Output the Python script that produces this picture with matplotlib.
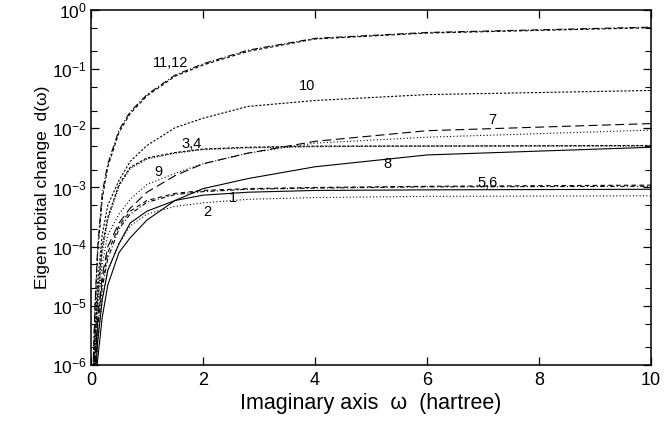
import numpy as np
import matplotlib
matplotlib.use('Agg')
import matplotlib.pyplot as plt
from matplotlib.ticker import FixedLocator, NullLocator, NullFormatter

plt.rcParams['font.family'] = ['Liberation Sans', 'DejaVu Sans']
plt.rcParams['mathtext.fontset'] = 'custom'
plt.rcParams['mathtext.rm'] = 'Liberation Sans'
plt.rcParams['mathtext.it'] = 'Liberation Sans:italic'

# imaginary frequency grid (hartree)
omega = [0.03, 0.07, 0.12, 0.2, 0.3, 0.5, 0.7, 1.0, 1.5, 2.0, 2.8, 4.0, 6.0, 10.0]

# log10 of d(omega) for each orbital
log_d11 = [-6.3, -5.0, -4.0, -3.1, -2.6, -2.03, -1.72, -1.43, -1.10, -0.91, -0.68, -0.48, -0.38, -0.29]
log_d12 = [-6.4, -5.1, -4.1, -3.2, -2.65, -2.07, -1.75, -1.45, -1.12, -0.93, -0.70, -0.49, -0.39, -0.30]
log_d10 = [-6.4, -5.4, -4.6, -3.8, -3.3, -2.88, -2.56, -2.29, -1.99, -1.83, -1.63, -1.53, -1.43, -1.36]
log_d3 = [-6.5, -5.6, -4.8, -4.0, -3.5, -2.95, -2.66, -2.50, -2.41, -2.35, -2.32, -2.30, -2.30, -2.29]
log_d4 = [-6.5, -5.7, -4.9, -4.1, -3.55, -2.98, -2.68, -2.52, -2.42, -2.36, -2.33, -2.31, -2.30, -2.30]
log_d9 = [-6.6, -5.8, -5.0, -4.3, -3.8, -3.45, -3.20, -2.95, -2.76, -2.60, -2.42, -2.25, -2.15, -2.03]
log_d7 = [-6.7, -6.0, -5.2, -4.5, -4.0, -3.60, -3.35, -3.08, -2.80, -2.60, -2.42, -2.22, -2.04, -1.92]
log_d5 = [-6.7, -6.0, -5.3, -4.6, -4.1, -3.65, -3.40, -3.22, -3.10, -3.05, -3.02, -3.00, -2.98, -2.96]
log_d6 = [-6.8, -6.1, -5.4, -4.7, -4.2, -3.70, -3.45, -3.25, -3.12, -3.07, -3.03, -3.01, -2.99, -2.98]
log_d1 = [-6.9, -6.3, -5.6, -4.9, -4.4, -3.95, -3.60, -3.40, -3.22, -3.13, -3.08, -3.05, -3.04, -3.03]
log_d2 = [-6.9, -6.3, -5.6, -4.9, -4.4, -3.95, -3.65, -3.45, -3.32, -3.26, -3.20, -3.17, -3.15, -3.14]
log_d8 = [-7.0, -6.5, -5.9, -5.2, -4.65, -4.10, -3.85, -3.55, -3.22, -3.02, -2.85, -2.65, -2.45, -2.32]

# curve labels: text, omega, d
label_text = ['11,12', '10', '7', '3,4', '9', '8', '5,6', '1', '2']
label_w = [1.42, 3.86, 7.16, 1.80, 1.21, 5.30, 7.09, 2.54, 2.07]
label_d = [10**-0.9, 10**-1.29, 10**-1.86, 10**-2.27, 10**-2.73, 10**-2.61, 10**-2.92, 10**-3.17, 10**-3.41]

styles = [
    (log_d11, (0, (6, 2, 1, 2))),
    (log_d12, (0, (3, 2))),
    (log_d10, (0, (2, 1.5))),
    (log_d3, (0, (2.5, 1.5))),
    (log_d4, (0, (1, 1.5))),
    (log_d9, (0, (1, 2))),
    (log_d7, (0, (8, 4))),
    (log_d5, (0, (4, 3))),
    (log_d6, (0, (4, 2, 1, 2))),
    (log_d1, 'solid'),
    (log_d2, (0, (1, 2))),
    (log_d8, 'solid'),
]

fig = plt.figure(figsize=(6.72, 4.25), dpi=100)
ax = fig.add_axes([0.1354, 0.1412, 0.8334, 0.8353])

for vals, ls in styles:
    ax.semilogy(omega, 10**np.array(vals), color='black', lw=0.8, linestyle=ls)

for t, xw, yd in zip(label_text, label_w, label_d):
    ax.text(xw, yd, t, fontsize=10.5, ha='center', va='center')

ax.set_xlim(0, 10)
ax.set_ylim(1e-6, 1.0)
ax.set_xticks([0, 2, 4, 6, 8, 10])
ax.xaxis.set_minor_locator(NullLocator())
decades = 10.0**np.arange(-6, 1)
ax.yaxis.set_major_locator(FixedLocator(decades))
ax.yaxis.set_minor_locator(FixedLocator(np.concatenate([decades[:-1] * 2, decades[:-1] * 5])))
ax.yaxis.set_minor_formatter(NullFormatter())

ax.tick_params(axis='both', which='both', direction='in', top=True, right=True)
ax.tick_params(axis='both', which='major', length=6, width=0.9)
ax.tick_params(axis='y', which='minor', length=4, width=0.8)
ax.tick_params(axis='x', labelsize=13, pad=5)
ax.tick_params(axis='y', labelsize=12.5, pad=3)
for sp in ax.spines.values():
    sp.set_linewidth(1.1)

ax.set_xlabel('Imaginary axis  \u03c9  (hartree)', fontsize=15.5, labelpad=3)
ax.set_ylabel('Eigen orbital change  d(\u03c9)', fontsize=12.5, labelpad=1)

fig.savefig('out.png', dpi=100)
